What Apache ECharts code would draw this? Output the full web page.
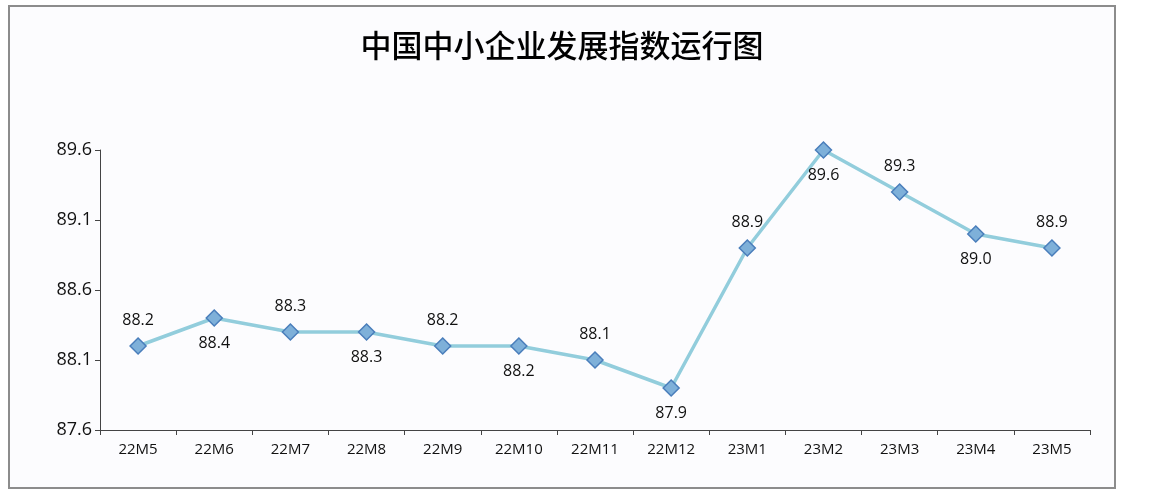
<!DOCTYPE html>
<html>
<head>
<meta charset="utf-8">
<script src="https://cdn.jsdelivr.net/npm/echarts@6/dist/echarts.min.js"></script>
<style>
  html, body { margin: 0; padding: 0; background: #fff; }
  #box { position: absolute; left: 8px; top: 5px; width: 1104px; height: 480px; border: 2px solid #8c8c8c; background: #fcfcfe; }
  #chart { width: 100%; height: 100%; }
</style>
</head>
<body>
<div id="box"><div id="chart"></div></div>
<script>
const categories = ['22M5', '22M6', '22M7', '22M8', '22M9', '22M10', '22M11', '22M12', '23M1', '23M2', '23M3', '23M4', '23M5'];
const values = [88.2, 88.4, 88.3, 88.3, 88.2, 88.2, 88.1, 87.9, 88.9, 89.6, 89.3, 89.0, 88.9];
const labelSide = ['top', 'bottom', 'top', 'bottom', 'top', 'bottom', 'top', 'bottom', 'top', 'bottom', 'top', 'bottom', 'top'];
const yTicks = [87.6, 88.1, 88.6, 89.1, 89.6];

const chart = echarts.init(document.getElementById('chart'));
chart.setOption({
  animation: false,
  title: {
    text: '中国中小企业发展指数运行图',
    left: 'center', top: 18,
    textStyle: { fontFamily: 'Noto Sans CJK SC', fontSize: 31, fontWeight: 500, color: '#000' }
  },
  grid: { left: 90, right: 24, top: 143, bottom: 57 },
  xAxis: {
    type: 'category',
    data: categories,
    boundaryGap: true,
    axisLine: { lineStyle: { color: '#444' } },
    axisTick: { show: true, lineStyle: { color: '#444' } },
    axisLabel: { color: '#111', fontSize: 15, fontFamily: 'Open Sans', margin: 12 }
  },
  yAxis: {
    type: 'value',
    min: 87.6, max: 89.6,
    splitLine: { show: false },
    axisLine: { show: true, lineStyle: { color: '#444' } },
    axisTick: { show: true, customValues: yTicks, lineStyle: { color: '#444' } },
    axisLabel: { customValues: yTicks, color: '#111', fontSize: 18, fontFamily: 'Open Sans', formatter: v => v.toFixed(1) }
  },
  series: [{
    type: 'line',
    data: values.map((v, i) => ({ value: v, label: { position: labelSide[i] } })),
    symbol: 'diamond',
    symbolSize: 16,
    lineStyle: { color: '#92cddc', width: 3.5 },
    itemStyle: { color: '#7eb0d9', borderColor: '#4a7ebb', borderWidth: 1.5 },
    label: { show: true, distance: 9, color: '#111', fontSize: 16, fontFamily: 'Open Sans', formatter: p => p.value.toFixed(1) }
  }]
});
</script>
</body>
</html>
